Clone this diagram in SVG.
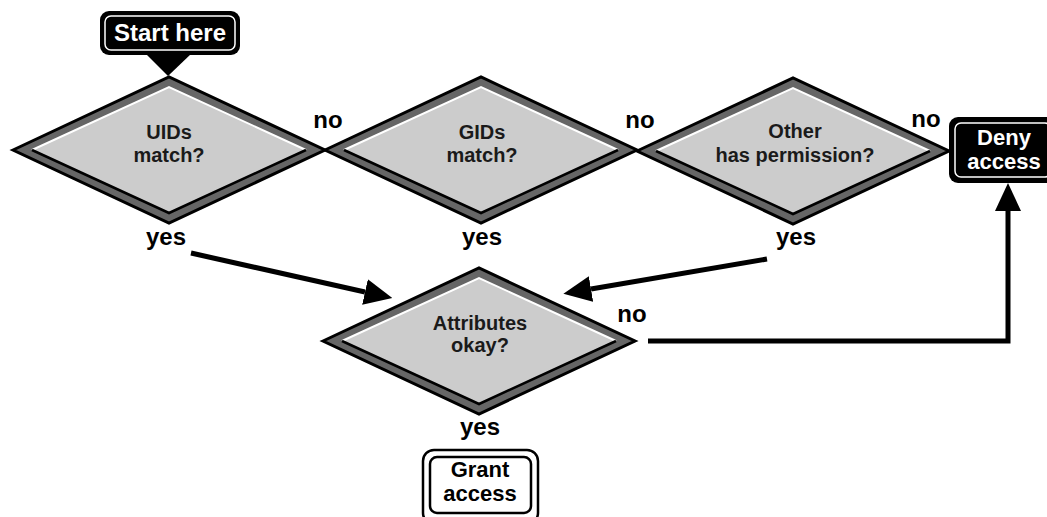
<svg xmlns="http://www.w3.org/2000/svg" width="1047" height="517" viewBox="0 0 1047 517">
  <style>
    .lbl { font-family: "Liberation Sans", Arial, sans-serif; font-weight: bold; font-size: 24px; fill: #000; text-anchor: middle; }
    .q { font-family: "Liberation Sans", Arial, sans-serif; font-weight: bold; font-size: 20px; fill: #1a1a1a; text-anchor: middle; }
    .term { font-family: "Liberation Sans", Arial, sans-serif; font-weight: bold; font-size: 22px; text-anchor: middle; }
    .outer { fill: #666; stroke: #000; stroke-width: 3; stroke-linejoin: miter; }
    .inner { fill: #ccc; stroke: none; }
    .lit { fill: none; stroke: #fff; stroke-width: 2; }
    .shade { fill: none; stroke: #000; stroke-width: 2.5; }
    .flow { fill: none; stroke: #000; stroke-width: 5; }
  </style>
  <defs>
    <!-- decision shape centred on 0,0 -->
    <g id="decision">
      <polygon class="outer" points="-156,0 0,-73 156,0 0,73"/>
      <polygon class="inner" points="-137,0 0,-63 137,0 0,63"/>
      <polyline class="lit" points="-137,0 0,-63 137,0"/>
      <polyline class="shade" points="-137,0 0,63 137,0"/>
    </g>
    <marker id="head" viewBox="0 0 28 26" markerWidth="28" markerHeight="26" refX="0" refY="13" orient="auto" markerUnits="userSpaceOnUse">
      <path d="M0,0 L28,13 L0,26 Z" fill="#000"/>
    </marker>
  </defs>

  <!-- connectors -->
  <g id="connectors">
    <path class="flow" d="M191,253 L365,292" marker-end="url(#head)"/>
    <path class="flow" d="M767,259 L591,289" marker-end="url(#head)"/>
    <path class="flow" d="M648,341 H1008 V211" marker-end="url(#head)"/>
    <polygon points="145,53 192,53 168,76" fill="#000"/>
  </g>

  <!-- start terminal -->
  <g id="start">
    <rect x="100" y="11" width="140" height="44" rx="9" fill="#000"/>
    <rect x="105" y="16" width="130" height="34" rx="6" fill="none" stroke="#fff" stroke-width="1.5"/>
    <text class="term" x="170" y="41" fill="#fff" style="font-size:24px">Start here</text>
  </g>

  <!-- decisions -->
  <g id="uids">
    <use href="#decision" x="169" y="150"/>
    <text class="q" x="169" y="139">UIDs</text>
    <text class="q" x="169" y="162">match?</text>
  </g>
  <g id="gids">
    <use href="#decision" x="481" y="150"/>
    <text class="q" x="482" y="139">GIDs</text>
    <text class="q" x="482" y="162">match?</text>
  </g>
  <g id="other">
    <use href="#decision" x="793" y="151"/>
    <text class="q" x="795" y="138">Other</text>
    <text class="q" x="795" y="162">has permission?</text>
  </g>
  <g id="attributes">
    <use href="#decision" x="479" y="341"/>
    <text class="q" x="480" y="330">Attributes</text>
    <text class="q" x="480" y="352">okay?</text>
  </g>

  <!-- deny terminal -->
  <g id="deny">
    <rect x="949" y="117" width="106" height="66" rx="9" fill="#000"/>
    <rect x="955" y="123" width="96" height="54" rx="6" fill="none" stroke="#fff" stroke-width="1.5"/>
    <text class="term" x="1004" y="145" fill="#fff">Deny</text>
    <text class="term" x="1004" y="169" fill="#fff">access</text>
  </g>

  <!-- grant terminal -->
  <g id="grant">
    <rect x="423" y="450" width="115" height="74" rx="11" fill="#fff" stroke="#000" stroke-width="2.5"/>
    <rect x="430" y="457" width="101" height="56" rx="7" fill="none" stroke="#000" stroke-width="2.5"/>
    <text class="term" x="480" y="477" fill="#000">Grant</text>
    <text class="term" x="480" y="501" fill="#000">access</text>
  </g>

  <!-- branch labels -->
  <g id="labels">
    <text class="lbl" x="328" y="128">no</text>
    <text class="lbl" x="640" y="128">no</text>
    <text class="lbl" x="926" y="127">no</text>
    <text class="lbl" x="632" y="322">no</text>
    <text class="lbl" x="166" y="245">yes</text>
    <text class="lbl" x="482" y="245">yes</text>
    <text class="lbl" x="796" y="245">yes</text>
    <text class="lbl" x="480" y="435">yes</text>
  </g>
</svg>
